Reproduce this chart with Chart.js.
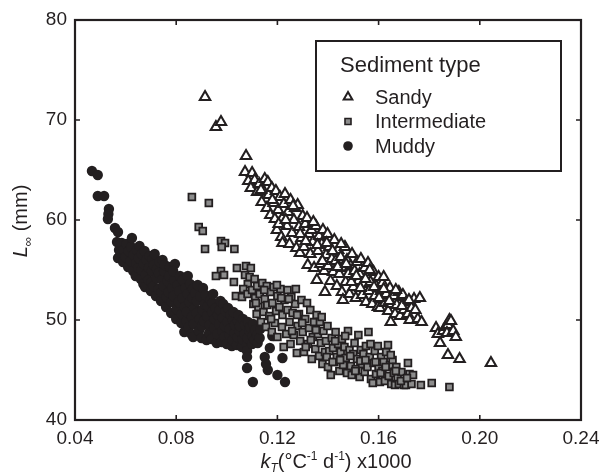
<!DOCTYPE html>
<html>
<head>
<meta charset="utf-8">
<script src="https://cdn.jsdelivr.net/npm/chart.js@4.4.0/dist/chart.umd.min.js"></script>
<style>
  html, body { margin: 0; padding: 0; background: #fff; }
</style>
</head>
<body>
<canvas id="chart" width="616" height="476"></canvas>
<script>
// axis ticks
var xTicks = [0.04, 0.08, 0.12, 0.16, 0.20, 0.24];
var yTicks = [40, 50, 60, 70, 80];

var legendTitle = 'Sediment type';
var seriesNames = ['Sandy', 'Intermediate', 'Muddy'];

// points: [kT x1000, L-infinity (mm)]
var sandy = [
  [0.0914,72.3],[0.0957,69.3],[0.0977,69.8],[0.1076,66.4],
  [0.1072,64.8],[0.1100,64.7],[0.1085,63.9],[0.1110,64.0],[0.1095,63.2],
  [0.1120,62.8],[0.1128,63.6],[0.1138,61.8],[0.1145,62.9],[0.1150,64.1],[0.1162,63.8],[0.1158,61.2],[0.1165,62.5],[0.1172,60.5],[0.1178,63.2],
  [0.1185,61.7],[0.1190,60.1],[0.1194,62.9],[0.1198,59.0],[0.1203,61.0],[0.1210,62.3],[0.1215,58.3],[0.1220,60.2],[0.1225,61.6],[0.1230,62.6],[0.1220,57.7],
  [0.1238,59.4],[0.1242,60.8],[0.1248,57.6],[0.1252,62.0],[0.1258,58.7],[0.1265,60.0],[0.1270,61.2],[0.1275,57.2],[0.1280,61.5],[0.1285,59.3],[0.1289,56.7],
  [0.1295,58.2],[0.1300,60.4],[0.1305,57.3],[0.1310,59.6],[0.1317,60.2],[0.1320,55.5],[0.1325,58.6],[0.1330,56.6],[0.1335,59.0],[0.1340,57.8],[0.1345,55.2],
  [0.1352,59.4],[0.1356,54.0],[0.1360,56.9],[0.1365,58.4],[0.1370,55.6],[0.1375,57.6],[0.1380,59.0],[0.1388,52.8],[0.1385,54.9],[0.1392,56.5],[0.1398,58.6],[0.1400,55.4],
  [0.1405,57.3],[0.1410,53.9],[0.1415,56.1],[0.1420,54.8],[0.1425,58.0],[0.1430,55.9],[0.1435,53.4],[0.1440,57.0],[0.1445,54.6],[0.1450,56.3],[0.1455,52.8],[0.1459,52.0],
  [0.1462,55.2],[0.1467,57.3],[0.1470,53.8],[0.1475,56.0],[0.1480,54.6],[0.1485,52.6],[0.1490,55.4],[0.1495,56.6],[0.1500,53.3],[0.1505,54.9],[0.1510,52.2],[0.1515,55.8],[0.1520,53.9],
  [0.1525,54.6],[0.1530,56.1],[0.1535,52.5],[0.1540,53.6],[0.1545,55.2],[0.1550,51.8],[0.1555,54.3],[0.1558,55.7],[0.1562,52.9],[0.1568,53.8],[0.1575,51.6],[0.1580,54.8],
  [0.1585,52.4],[0.1590,53.4],[0.1597,51.3],[0.1600,54.3],[0.1605,51.2],[0.1610,52.9],[0.1615,53.7],[0.1620,54.3],[0.1625,51.7],[0.1630,52.6],[0.1638,50.9],[0.1645,53.2],[0.1648,49.8],
  [0.1652,51.6],[0.1660,52.4],[0.1665,50.6],[0.1672,51.5],[0.1680,52.8],[0.1685,50.4],[0.1690,52.3],[0.1696,52.5],[0.1700,51.0],[0.1710,51.8],[0.1715,50.6],[0.1723,50.0],
  [0.1730,51.2],[0.1740,52.1],[0.1755,50.1],[0.1763,52.2],[0.1770,49.8],
  [0.1135,63.0],[0.1180,62.0],[0.1205,59.6],[0.1233,60.0],[0.1262,61.4],[0.1290,58.6],[0.1312,57.9],[0.1342,59.8],[0.1358,57.5],[0.1378,55.9],
  [0.1395,57.7],[0.1418,56.9],[0.1438,55.3],[0.1452,57.6],[0.1472,55.6],[0.1492,53.8],[0.1512,54.4],[0.1528,53.2],[0.1548,54.1],[0.1565,55.0],
  [0.1582,53.3],[0.1602,52.2],[0.1620,53.1],[0.1642,51.9],[0.1668,53.0],[0.1692,51.4],[0.1720,52.0],[0.1745,51.0],
  [0.1827,49.2],[0.1834,48.6],[0.1843,47.7],[0.1855,48.9],[0.1865,49.3],[0.1874,49.5],[0.1880,50.0],[0.1870,48.7],[0.1886,49.9],[0.1895,48.9],[0.1905,48.3],
  [0.1874,46.5],[0.1920,46.1],[0.2044,45.7]
];

var intermediate = [
  [0.0862,62.3],[0.0929,61.7],[0.0889,59.3],[0.0905,58.9],[0.0977,57.9],[0.0993,57.7],[0.0980,57.3],[0.0914,57.1],[0.1030,57.1],
  [0.0977,54.9],[0.0957,54.4],[0.0989,54.5],[0.1040,55.2],[0.1076,55.4],[0.1095,55.2],[0.1028,53.8],[0.1036,52.4],[0.1060,52.3],
  [0.1072,54.5],[0.1083,53.6],[0.1065,53.1],
  [0.1082,52.6],[0.1090,54.3],[0.1100,53.0],[0.1105,51.6],[0.1110,54.1],[0.1112,52.2],[0.1118,50.6],[0.1120,53.4],
  [0.1125,51.3],[0.1130,52.6],[0.1135,49.8],[0.1140,53.7],[0.1145,50.8],[0.1150,52.1],[0.1155,49.3],[0.1158,53.4],[0.1160,51.5],
  [0.1168,50.4],[0.1172,52.8],[0.1178,48.8],[0.1180,51.7],[0.1185,53.3],[0.1190,49.7],[0.1195,50.9],[0.1200,52.4],[0.1200,48.3],
  [0.1208,51.3],[0.1212,53.1],[0.1218,49.3],[0.1220,50.5],[0.1225,47.3],[0.1228,52.0],[0.1235,48.6],[0.1240,51.0],[0.1240,53.0],
  [0.1248,49.8],[0.1252,47.6],[0.1255,52.3],[0.1260,50.7],[0.1265,48.5],[0.1270,51.6],[0.1273,53.1],[0.1277,46.7],[0.1280,49.4],
  [0.1285,50.6],[0.1290,47.9],[0.1295,52.0],[0.1300,48.8],[0.1305,46.8],[0.1310,50.1],[0.1317,51.7],[0.1320,47.6],[0.1325,49.2],
  [0.1330,51.0],[0.1336,46.1],[0.1340,48.3],[0.1345,49.8],[0.1350,47.1],[0.1355,50.5],[0.1360,48.6],[0.1365,46.4],[0.1368,49.8],
  [0.1372,47.7],[0.1378,45.6],[0.1382,48.9],[0.1388,46.8],[0.1392,47.9],[0.1398,49.4],[0.1400,45.3],[0.1405,46.9],
  [0.1411,44.5],[0.1415,48.2],[0.1420,47.2],[0.1425,45.8],[0.1430,48.8],[0.1435,46.3],[0.1440,47.6],[0.1445,44.9],[0.1450,46.8],
  [0.1455,48.1],[0.1460,45.5],[0.1465,47.3],[0.1470,46.2],[0.1475,44.7],[0.1479,48.9],[0.1485,47.0],[0.1490,45.4],[0.1494,44.5],[0.1500,46.6],
  [0.1505,47.7],[0.1510,45.1],[0.1515,46.1],[0.1520,48.5],[0.1525,44.3],[0.1530,47.0],[0.1535,45.6],[0.1540,46.6],[0.1545,44.8],[0.1550,47.4],
  [0.1556,45.3],[0.1560,48.8],[0.1565,46.3],[0.1570,44.1],[0.1577,43.7],[0.1580,45.7],[0.1585,46.9],[0.1590,44.6],[0.1597,47.4],[0.1600,45.2],
  [0.1605,43.8],[0.1610,46.3],[0.1615,44.9],[0.1620,45.8],[0.1625,43.9],[0.1630,46.8],[0.1637,47.5],[0.1640,44.4],[0.1645,45.5],[0.1650,43.6],
  [0.1655,46.0],[0.1660,44.7],[0.1665,43.5],[0.1670,45.3],[0.1675,44.2],[0.1680,43.6],[0.1690,44.8],[0.1700,43.5],[0.1708,43.5],
  [0.1716,45.7],[0.1722,44.6],[0.1730,43.6],[0.1736,44.5],
  [0.1115,51.7],[0.1148,53.0],[0.1175,50.1],[0.1198,53.5],[0.1215,52.2],[0.1245,52.1],[0.1258,48.9],[0.1278,50.5],[0.1298,49.7],[0.1312,47.3],
  [0.1332,48.0],[0.1352,49.0],[0.1375,50.3],[0.1395,46.3],[0.1418,45.8],[0.1428,47.9],[0.1448,46.0],[0.1468,48.4],[0.1488,46.4],[0.1508,44.9],
  [0.1528,45.9],[0.1548,46.0],[0.1568,47.6],[0.1588,45.8],[0.1608,44.7],[0.1628,45.3],[0.1648,46.5],[0.1668,44.9],[0.1688,43.9],[0.1712,44.2],
  [0.1767,43.5],[0.1810,43.7],[0.1880,43.3]
];

var muddy = [
  [0.0467,64.9],[0.0490,64.5],[0.0490,62.4],[0.0515,62.4],[0.0534,61.1],[0.0532,60.6],[0.0530,60.1],[0.0558,59.2],[0.0570,58.8],[0.0566,57.8],[0.0578,57.5],
  [0.0570,56.2],[0.0574,57.0],[0.0580,56.8],[0.0585,57.7],[0.0590,55.8],[0.0593,57.0],[0.0600,56.3],[0.0603,57.6],[0.0610,55.3],[0.0612,56.9],[0.0620,55.9],[0.0622,57.3],[0.0625,58.2],
  [0.0630,54.9],[0.0632,56.5],[0.0640,54.4],[0.0642,55.7],[0.0645,57.0],[0.0650,55.2],[0.0652,56.2],[0.0655,57.4],[0.0660,54.1],[0.0662,55.0],[0.0664,56.6],[0.0670,53.6],[0.0672,55.6],[0.0675,56.9],
  [0.0677,53.3],[0.0680,54.5],[0.0682,56.0],[0.0690,54.0],[0.0692,55.2],[0.0695,56.4],[0.0700,52.9],[0.0702,53.8],[0.0704,54.9],[0.0706,56.1],[0.0710,53.4],[0.0712,55.5],[0.0715,56.6],
  [0.0720,52.4],[0.0722,54.2],[0.0724,55.1],[0.0730,53.1],[0.0732,54.7],[0.0735,55.8],[0.0740,51.9],[0.0742,52.8],[0.0744,54.0],[0.0746,56.0],[0.0750,53.4],[0.0752,54.9],[0.0755,55.5],
  [0.0760,51.3],[0.0762,52.3],[0.0765,53.9],[0.0770,52.8],[0.0772,54.4],[0.0775,55.3],[0.0780,50.7],[0.0782,51.8],[0.0784,53.2],[0.0795,55.6],[0.0790,52.4],[0.0792,54.0],[0.0788,54.9],
  [0.0800,50.1],[0.0802,51.1],[0.0805,53.5],[0.0810,51.8],[0.0812,52.9],[0.0815,54.4],[0.0820,49.7],[0.0822,50.6],[0.0824,52.2],[0.0826,54.0],[0.0832,48.8],[0.0834,51.3],[0.0836,53.2],
  [0.0840,49.9],[0.0842,50.8],[0.0844,52.6],[0.0846,54.4],[0.0850,49.3],[0.0852,51.8],[0.0855,53.6],[0.0860,48.6],[0.0862,50.3],[0.0864,52.2],[0.0866,53.1],[0.0867,48.3],[0.0870,49.6],[0.0872,51.2],[0.0875,52.7],
  [0.0880,50.7],[0.0882,51.9],[0.0885,53.5],[0.0890,48.9],[0.0892,50.1],[0.0895,52.4],[0.0900,48.2],[0.0902,49.4],[0.0904,51.0],[0.0906,53.2],[0.0910,49.9],[0.0912,51.6],[0.0915,52.5],
  [0.0920,48.0],[0.0922,50.4],[0.0925,51.4],[0.0930,48.7],[0.0932,49.5],[0.0935,52.0],[0.0940,48.1],[0.0942,50.8],[0.0944,51.7],[0.0946,52.6],[0.0950,49.2],[0.0952,50.1],[0.0955,51.2],
  [0.0960,47.7],[0.0962,48.6],[0.0965,50.5],[0.0970,49.6],[0.0972,51.0],[0.0975,51.9],[0.0980,47.8],[0.0982,48.9],[0.0984,50.2],[0.0986,51.6],[0.0990,48.3],[0.0992,49.4],[0.0995,50.9],
  [0.1000,47.6],[0.1002,49.8],[0.1005,51.2],[0.1010,48.5],[0.1012,49.1],[0.1015,50.5],[0.1020,47.4],[0.1022,48.0],[0.1024,50.0],[0.1026,50.8],[0.1030,48.7],[0.1032,49.5],
  [0.1040,47.5],[0.1042,48.3],[0.1044,49.9],[0.1046,50.5],[0.1050,48.9],[0.1052,49.4],[0.1060,47.3],[0.1062,48.1],[0.1064,50.1],[0.1070,48.6],[0.1072,49.5],
  [0.1080,47.5],[0.1082,48.2],[0.1084,49.8],[0.1080,46.9],[0.1090,48.9],[0.1092,49.3],[0.1100,47.6],[0.1102,48.4],[0.1104,49.6],[0.1110,48.0],[0.1112,49.0],
  [0.1120,48.5],[0.1122,47.7],[0.1130,48.2],[0.1132,49.1],
  [0.1080,46.3],[0.1080,45.2],[0.1103,43.8],[0.1150,46.3],[0.1162,45.0],[0.1155,45.6],[0.1170,47.2],[0.1180,48.4],[0.1220,46.2],[0.1200,44.5],[0.1230,43.8]
];

var ink = '#231f20';
var squareGrey = '#8c8c8c';
var fontFamily = "'Liberation Sans', Arial, Helvetica, sans-serif";

function toXY(list) {
  return list.map(function (p) { return { x: p[0], y: p[1] }; });
}

// text made of pieces: {t, size, italic, dy}
function drawPieces(ctx, pieces, cx, baseY) {
  var total = 0;
  pieces.forEach(function (p) {
    ctx.font = (p.italic ? 'italic ' : '') + p.size + 'px ' + fontFamily;
    p.w = ctx.measureText(p.t).width;
    total += p.w;
  });
  var x = cx - total / 2;
  ctx.textAlign = 'left';
  ctx.textBaseline = 'alphabetic';
  pieces.forEach(function (p) {
    ctx.font = (p.italic ? 'italic ' : '') + p.size + 'px ' + fontFamily;
    ctx.fillText(p.t, x, baseY + (p.dy || 0));
    x += p.w;
  });
}

function marker(ctx, kind, x, y) {
  ctx.beginPath();
  if (kind === 0) {
    var r = 5;
    ctx.moveTo(x, y - r);
    ctx.lineTo(x + r * 0.866, y + r / 2);
    ctx.lineTo(x - r * 0.866, y + r / 2);
    ctx.closePath();
    ctx.fillStyle = '#fff';
    ctx.fill();
    ctx.lineWidth = 2;
    ctx.strokeStyle = ink;
    ctx.stroke();
  } else if (kind === 1) {
    ctx.rect(x - 3, y - 3, 6, 6);
    ctx.fillStyle = squareGrey;
    ctx.fill();
    ctx.lineWidth = 1.6;
    ctx.strokeStyle = ink;
    ctx.stroke();
  } else {
    ctx.arc(x, y, 4.8, 0, Math.PI * 2);
    ctx.fillStyle = ink;
    ctx.fill();
  }
}

// frame, inward ticks, axis titles and the boxed legend
var decorPlugin = {
  id: 'decor',
  afterDraw: function (chart) {
    var ctx = chart.ctx;
    var a = chart.chartArea;
    var xs = chart.scales.x, ys = chart.scales.y;
    ctx.save();

    ctx.strokeStyle = ink;
    ctx.lineWidth = 2.2;
    ctx.strokeRect(a.left, a.top, a.right - a.left, a.bottom - a.top);

    ctx.lineWidth = 1.6;
    ctx.beginPath();
    xTicks.forEach(function (v) {
      var px = xs.getPixelForValue(v);
      ctx.moveTo(px, a.bottom); ctx.lineTo(px, a.bottom - 5);
      ctx.moveTo(px, a.top); ctx.lineTo(px, a.top + 5);
    });
    yTicks.forEach(function (v) {
      var py = ys.getPixelForValue(v);
      ctx.moveTo(a.left, py); ctx.lineTo(a.left + 5, py);
      ctx.moveTo(a.right, py); ctx.lineTo(a.right - 5, py);
    });
    ctx.stroke();

    ctx.fillStyle = ink;
    drawPieces(ctx, [
      { t: 'k', size: 20, italic: true },
      { t: 'T', size: 12, italic: true, dy: 4 },
      { t: '(°C', size: 20 },
      { t: '-1', size: 12, dy: -8 },
      { t: ' d', size: 20 },
      { t: '-1', size: 12, dy: -8 },
      { t: ') x1000', size: 20 }
    ], (a.left + a.right) / 2 + 8, 468);

    ctx.save();
    ctx.translate(27, (a.top + a.bottom) / 2 + 1);
    ctx.rotate(-Math.PI / 2);
    drawPieces(ctx, [
      { t: 'L', size: 20, italic: true },
      { t: '\u221E', size: 13, dy: 5 },
      { t: ' (mm)', size: 20 }
    ], 0, 0);
    ctx.restore();

    // legend box
    var bx = a.right - 265, by = a.top + 21, bw = 245, bh = 130;
    ctx.fillStyle = '#fff';
    ctx.fillRect(bx, by, bw, bh);
    ctx.lineWidth = 2;
    ctx.strokeStyle = ink;
    ctx.strokeRect(bx, by, bw, bh);
    ctx.fillStyle = ink;
    ctx.textAlign = 'left';
    ctx.textBaseline = 'alphabetic';
    ctx.font = '22px ' + fontFamily;
    ctx.fillText(legendTitle, bx + 24, by + 31);
    seriesNames.forEach(function (name, i) {
      var rowY = by + 56 + i * 24.5;
      marker(ctx, i, bx + 32, rowY);
      ctx.fillStyle = ink;
      ctx.font = '20px ' + fontFamily;
      ctx.fillText(name, bx + 59, rowY + 6.5);
    });
    ctx.restore();
  }
};

var chart = new Chart(document.getElementById('chart').getContext('2d'), {
  type: 'scatter',
  data: {
    datasets: [
      {
        label: seriesNames[0],
        data: toXY(sandy),
        pointStyle: 'triangle',
        pointRadius: 6,
        pointBackgroundColor: '#fff',
        pointBorderColor: ink,
        pointBorderWidth: 2.1
      },
      {
        label: seriesNames[1],
        data: toXY(intermediate),
        pointStyle: 'rect',
        pointRadius: 4.8,
        pointBackgroundColor: squareGrey,
        pointBorderColor: ink,
        pointBorderWidth: 1.8
      },
      {
        label: seriesNames[2],
        data: toXY(muddy),
        pointStyle: 'circle',
        pointRadius: 5.2,
        pointBackgroundColor: ink,
        pointBorderColor: ink,
        pointBorderWidth: 0
      }
    ]
  },
  options: {
    responsive: false,
    animation: false,
    events: [],
    layout: { padding: { left: 0, top: 20, right: 35, bottom: 0 } },
    plugins: {
      legend: { display: false },
      tooltip: { enabled: false }
    },
    scales: {
      x: {
        type: 'linear',
        min: 0.04,
        max: 0.24,
        grid: { display: false, drawTicks: false },
        border: { display: false },
        afterBuildTicks: function (s) { s.ticks = xTicks.map(function (v) { return { value: v }; }); },
        afterFit: function (s) { s.height = 56; },
        ticks: {
          padding: 7,
          color: ink,
          font: { family: fontFamily, size: 19 },
          callback: function (v) { return v.toFixed(2); }
        }
      },
      y: {
        type: 'linear',
        min: 40,
        max: 80,
        grid: { display: false, drawTicks: false },
        border: { display: false },
        afterBuildTicks: function (s) { s.ticks = yTicks.map(function (v) { return { value: v }; }); },
        afterFit: function (s) { s.width = 75; },
        ticks: {
          padding: 8,
          color: ink,
          font: { family: fontFamily, size: 19 },
          callback: function (v) { return String(v); }
        }
      }
    }
  },
  plugins: [decorPlugin]
});
</script>
</body>
</html>
